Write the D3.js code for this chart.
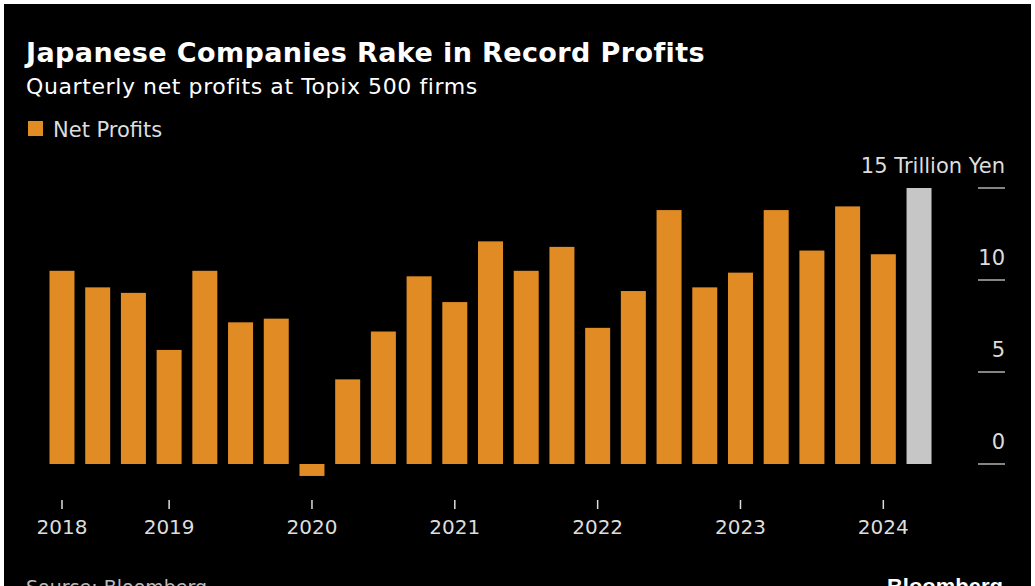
<!DOCTYPE html>
<html>
<head>
<meta charset="utf-8">
<script src="https://cdn.jsdelivr.net/npm/d3@7"></script>
<style>
  body { margin: 0; background: #fff; }
  svg { display: block; font-family: "Liberation Sans", Arial, sans-serif; }
</style>
</head>
<body>
<div id="wrapper"></div>
<script>
// quarterly net profits, trillion yen
const quarters = d3.range(25).map(i => 'Q' + i)
const profits = [10.5, 9.6, 9.3, 6.2, 10.5, 7.7, 7.9, -0.65, 4.6, 7.2, 10.2, 8.8,
    12.1, 10.5, 11.8, 7.4, 9.4, 13.8, 9.6, 10.4, 13.8, 11.6, 14.0, 11.4, 15]
const yearTicks = { Q0: '2018', Q3: '2019', Q7: '2020', Q11: '2021', Q15: '2022', Q19: '2023', Q23: '2024' }
const yTicks = [0, 5, 10, 15]

const dms = { width: 1035, height: 586 }

const svg = d3.select('#wrapper').append('svg')
    .attr('width', dms.width)
    .attr('height', dms.height)

svg.append('rect')
    .attr('x', 4).attr('y', 4)
    .attr('width', dms.width - 8).attr('height', dms.height - 4)
    .attr('fill', '#000')

// titles
svg.append('text').attr('x', 26).attr('y', 62)
    .attr('fill', '#fff').style('font-size', '27px').style('font-weight', 'bold')
    .style('font-family', '"DejaVu Sans", sans-serif').style('letter-spacing', '0.4px')
    .text('Japanese Companies Rake in Record Profits')
svg.append('text').attr('x', 26).attr('y', 94)
    .attr('fill', '#fff').style('font-size', '22px')
    .style('font-family', '"DejaVu Sans", sans-serif').style('letter-spacing', '0.6px')
    .text('Quarterly net profits at Topix 500 firms')

// legend
svg.append('rect').attr('x', 28).attr('y', 121).attr('width', 15).attr('height', 15).attr('fill', '#e08b24')
svg.append('text').attr('x', 53).attr('y', 137)
    .attr('fill', '#ddd').style('font-size', '21px')
    .style('font-family', '"DejaVu Sans", sans-serif')
    .text('Net Profits')

// scales
const xScale = d3.scaleBand()
    .domain(quarters)
    .range([44.14, 44.14 + 25 * 35.71])
    .paddingInner(0.3)
    .paddingOuter(0.15)

const yScale = d3.scaleLinear()
    .domain([0, 15])
    .range([464, 188])

// bars
svg.append('g').selectAll('rect')
    .data(profits)
    .join('rect')
    .attr('x', (d, i) => xScale(quarters[i]))
    .attr('width', xScale.bandwidth())
    .attr('y', d => yScale(Math.max(0, d)))
    .attr('height', d => Math.abs(yScale(d) - yScale(0)))
    .attr('fill', (d, i) => i === profits.length - 1 ? '#c6c6c6' : '#e08b24')

// y axis on right
const yAxis = svg.append('g')
yAxis.selectAll('line').data(yTicks).join('line')
    .attr('x1', 978).attr('x2', 1005)
    .attr('y1', d => yScale(d)).attr('y2', d => yScale(d))
    .attr('stroke', '#ddd').attr('stroke-width', 1.2)
yAxis.selectAll('text').data(yTicks).join('text')
    .attr('x', 1005).attr('y', d => yScale(d) - 15)
    .attr('text-anchor', 'end')
    .attr('fill', '#ddd').style('font-size', '21px')
    .style('font-family', '"DejaVu Sans", sans-serif')
    .text(d => d === 15 ? '15 Trillion Yen' : d)

// x axis
const xAxisGenerator = d3.axisBottom(xScale)
    .tickValues(Object.keys(yearTicks))
    .tickFormat(d => yearTicks[d])
    .tickSize(9)
    .tickPadding(11)

const xAxis = svg.append('g')
    .attr('transform', 'translate(0, 500)')
    .call(xAxisGenerator)
xAxis.select('.domain').remove()
xAxis.selectAll('line').attr('stroke', '#ddd').attr('stroke-width', 1.5)
xAxis.selectAll('text').attr('fill', '#ddd')
    .style('font-size', '20px').style('font-family', '"DejaVu Sans", sans-serif')

// footer (cropped at the bottom edge, as in the source image)
svg.append('text').attr('x', 26).attr('y', 594)
    .attr('fill', '#bbb').style('font-size', '19px')
    .style('font-family', '"DejaVu Sans", sans-serif')
    .text('Source: Bloomberg')
svg.append('text').attr('x', 1003).attr('y', 594).attr('text-anchor', 'end')
    .attr('fill', '#fff').style('font-size', '22px').style('font-weight', 'bold')
    .text('Bloomberg')
</script>
</body>
</html>
